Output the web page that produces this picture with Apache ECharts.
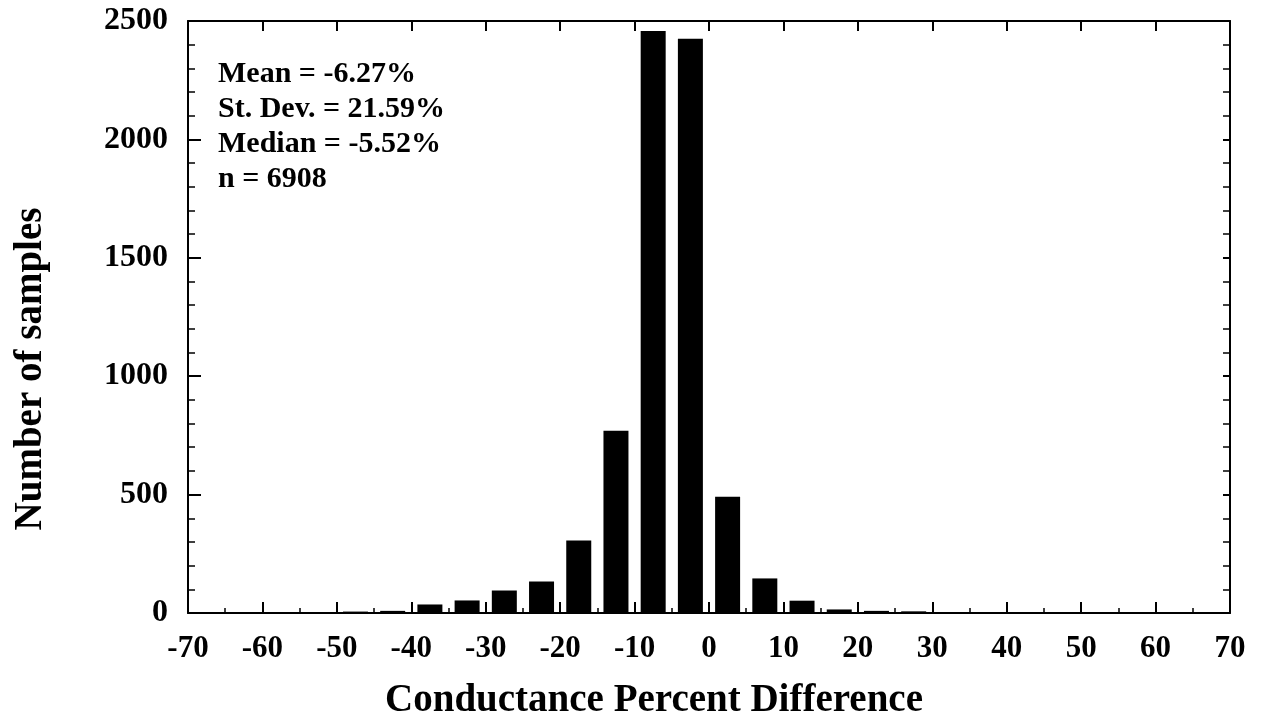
<!DOCTYPE html>
<html>
<head>
<meta charset="utf-8">
<script src="https://cdn.jsdelivr.net/npm/echarts@6/dist/echarts.min.js"></script>
<style>
html,body{margin:0;padding:0;background:#fff;}
#chart{width:1263px;height:725px;}
</style>
</head>
<body>
<div id="chart"></div>
<script>
// Histogram bins (centers, % difference) and counts
const binCenters = [-67.5,-62.5,-57.5,-52.5,-47.5,-42.5,-37.5,-32.5,-27.5,-22.5,-17.5,-12.5,-7.5,-2.5,2.5,7.5,12.5,17.5,22.5,27.5,32.5,37.5,42.5,47.5,52.5,57.5,62.5,67.5];
const counts     = [2,3,1,3,6,9,36,53,95,133,306,770,2458,2425,491,146,52,15,9,7,4,1,0,0,0,0,0,0];
const statsLines = ['Mean = -6.27%','St. Dev. = 21.59%','Median = -5.52%','n = 6908'];
const xTitle = 'Conductance Percent Difference';
const yTitle = 'Number of samples';

const FONT = "'Liberation Serif','Times New Roman',serif";
const chart = echarts.init(document.getElementById('chart'));
const axisLine = {show:true, onZero:false, lineStyle:{color:'#000', width:2}};
const plain = v => String(v);
const option = {
  backgroundColor:'#fff',
  animation:false,
  grid:{left:188, right:33, top:21, bottom:110, show:false},
  graphic:[{
    type:'text', left:218, top:57,
    style:{text:statsLines.join('\n'), font:"bold 30px "+FONT, lineHeight:35, fill:'#000'}
  }],
  xAxis:[{
    type:'value', min:-70, max:70, interval:10, position:'bottom',
    axisLine:axisLine,
    axisTick:{show:true, inside:true, length:11, lineStyle:{color:'#000', width:2}},
    minorTick:{show:true, splitNumber:2, length:5, lineStyle:{color:'#000', width:1.5}},
    splitLine:{show:false},
    axisLabel:{margin:20, color:'#000', fontFamily:FONT, fontWeight:'bold', fontSize:31, formatter:plain},
    name:xTitle, nameLocation:'middle', nameGap:68,
    nameTextStyle:{color:'#000', fontFamily:FONT, fontWeight:'bold', fontSize:39, padding:[0,110,0,0]}
  },{
    type:'value', min:-70, max:70, interval:10, position:'top',
    axisLine:axisLine,
    axisTick:{show:true, inside:true, length:10, lineStyle:{color:'#000', width:2}},
    axisLabel:{show:false}, splitLine:{show:false}
  }],
  yAxis:[{
    type:'value', min:0, max:2500, interval:500, position:'left',
    axisLine:axisLine,
    axisTick:{show:true, inside:true, length:13, lineStyle:{color:'#000', width:2}},
    minorTick:{show:true, splitNumber:5, length:7, lineStyle:{color:'#000', width:1.5}},
    splitLine:{show:false},
    axisLabel:{margin:20, color:'#000', fontFamily:FONT, fontWeight:'bold', fontSize:32, formatter:plain},
    name:yTitle, nameLocation:'middle', nameGap:138, nameRotate:90,
    nameTextStyle:{color:'#000', fontFamily:FONT, fontWeight:'bold', fontSize:39, padding:[0,104,0,0]}
  },{
    type:'value', min:0, max:2500, interval:500, position:'right',
    axisLine:axisLine,
    axisTick:{show:true, inside:true, length:7, lineStyle:{color:'#000', width:2}},
    minorTick:{show:true, splitNumber:5, length:7, lineStyle:{color:'#000', width:1.5}},
    axisLabel:{show:false}, splitLine:{show:false}
  }],
  series:[{
    type:'bar', xAxisIndex:0, yAxisIndex:0,
    data: binCenters.map((c,i)=>[c, counts[i]]),
    barWidth:25,
    itemStyle:{color:'#000'}
  }]
};
chart.setOption(option);
</script>
</body>
</html>
